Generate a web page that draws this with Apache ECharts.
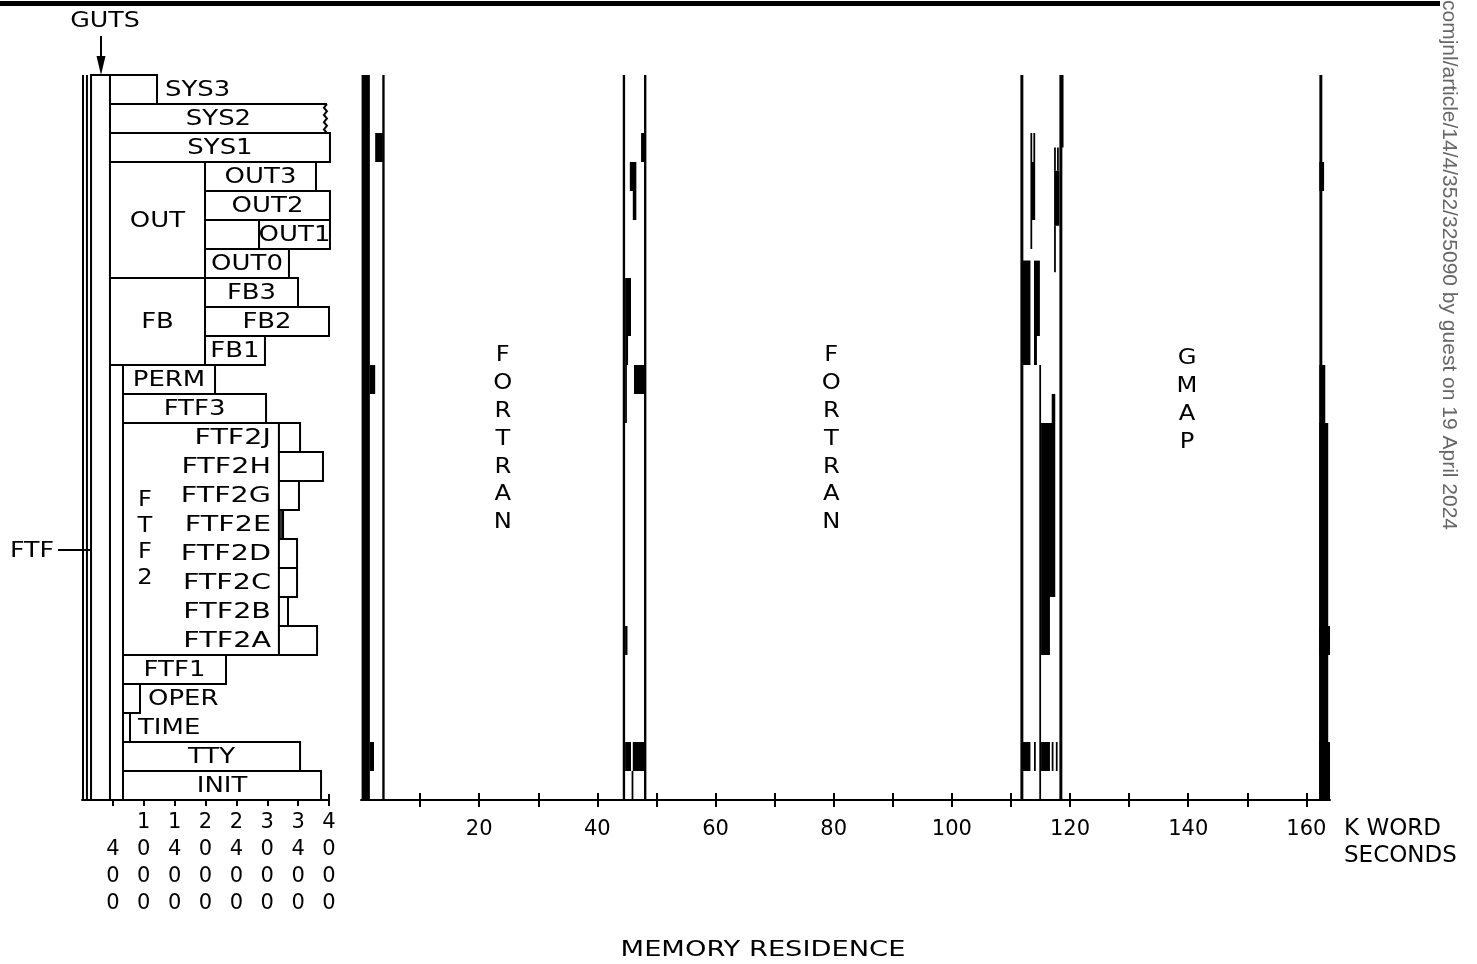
<!DOCTYPE html>
<html><head><meta charset="utf-8">
<script src="https://cdn.jsdelivr.net/npm/echarts@6/dist/echarts.min.js"></script>
<style>html,body{margin:0;padding:0;background:#fff}#c{width:1477px;height:964px}</style>
</head><body><div id="c"></div>
<script>
// ---------------- DATA ----------------
// overlay rows (top to bottom)
const rowNames = ['SYS3','SYS2','SYS1','OUT3','OUT2','OUT1','OUT0','FB3','FB2','FB1','PERM','FTF3',
  'FTF2J','FTF2H','FTF2G','FTF2E','FTF2D','FTF2C','FTF2B','FTF2A','FTF1','OPER','TIME','TTY','INIT'];
// memory map boxes: [name, start word, end word, first row, last row (exclusive)]
const overlayBoxes = [
  ['', 0, 41, 0, 25],
  ['GUTS', 75, 232, 0, 25],
  ['SYS3', 232, 622, 0, 1],
  ['SYS2', 232, 2031, 1, 2],
  ['SYS1', 232, 2056, 2, 3],
  ['OUT', 232, 1020, 3, 7],
  ['OUT3', 1020, 1940, 3, 4],
  ['OUT2', 1020, 2056, 4, 5],
  ['', 1020, 1468, 5, 6],
  ['OUT1', 1468, 2056, 5, 6],
  ['OUT0', 1020, 1716, 6, 7],
  ['FB', 232, 1020, 7, 10],
  ['FB3', 1020, 1791, 7, 8],
  ['FB2', 1020, 2048, 8, 9],
  ['FB1', 1020, 1517, 9, 10],
  ['FTF', 232, 340, 10, 25],
  ['PERM', 340, 1103, 10, 11],
  ['FTF3', 340, 1526, 11, 12],
  ['FTF2', 340, 1633, 12, 20],
  ['FTF2J', 1633, 1808, 12, 13],
  ['FTF2H', 1633, 1998, 13, 14],
  ['FTF2G', 1633, 1799, 14, 15],
  ['FTF2E', 1633, 1667, 15, 16],
  ['FTF2D', 1633, 1783, 16, 17],
  ['FTF2C', 1633, 1783, 17, 18],
  ['FTF2B', 1633, 1708, 18, 19],
  ['FTF2A', 1633, 1949, 19, 20],
  ['FTF1', 340, 1194, 20, 21],
  ['OPER', 340, 481, 21, 22],
  ['TIME', 340, 398, 22, 23],
  ['TTY', 340, 1808, 23, 24],
  ['INIT', 340, 1982, 24, 25]
];
// memory address tick labels (octal)
const memTickLabels = ['400','1000','1400','2000','2400','3000','3400','4000'];
// time axis (K word seconds)
const timeTicks = [10,20,30,40,50,60,70,80,90,100,110,120,130,140,150,160];
const timeTickLabels = [20,40,60,80,100,120,140,160];
// memory residence marks: [start t, end t, first row, last row (exclusive)]
const residence = [
  [0.1, 1.5, 0, 25], [3.6, 4.0, 0, 25], [1.5, 2.4, 10, 11], [1.5, 2.2, 23, 24], [2.4, 3.7, 2, 3],
  [44.3, 44.7, 0, 25], [47.9, 48.3, 0, 25], [47.4, 47.9, 2, 3], [45.5, 46.6, 3, 4], [46.0, 46.6, 4, 5],
  [44.7, 45.7, 7, 9], [44.7, 45.2, 9, 10], [46.2, 47.9, 10, 11], [44.7, 45.0, 10, 12],
  [44.7, 45.1, 19, 20], [44.7, 45.7, 23, 24], [46.0, 47.9, 23, 24], [45.8, 46.1, 24, 25],
  [111.6, 112.1, 0, 25], [118.2, 118.7, 0, 25], [118.6, 118.9, 0, 2.5], [114.8, 115.1, 10, 25],
  [113.3, 113.6, 2, 3], [113.8, 114.1, 2, 3], [113.3, 114.1, 3, 5], [113.3, 113.6, 5, 6],
  [111.8, 113.3, 6.4, 10], [113.9, 114.9, 6.4, 9], [113.9, 114.4, 9, 10],
  [117.3, 117.6, 2.5, 3.3], [117.8, 118.1, 2.5, 3.3], [117.3, 118.2, 3.3, 5.2], [117.3, 117.6, 5.2, 6.8],
  [116.9, 117.5, 11, 12], [115.1, 117.5, 12, 18], [115.1, 116.6, 18, 20],
  [111.8, 113.3, 23, 24], [113.9, 114.2, 23, 24], [115.1, 116.6, 23, 24], [116.9, 117.2, 23, 24], [117.6, 117.9, 23, 24],
  [162.2, 162.7, 0, 25], [162.2, 163.0, 3, 4], [162.2, 163.2, 10, 25], [162.2, 163.7, 12, 25],
  [162.2, 164.0, 19, 20], [162.2, 164.0, 23, 25]
];
// program runs
const runNames = ['FORTRAN', 'FORTRAN', 'GMAP'];
const runLabelTime = [24.0, 79.6, 139.8];
const runLabelRow = [9.2, 9.2, 9.3];

// ---------------- RENDER ----------------
const FONT = 'DejaVu Sans';
const memTickValues = memTickLabels.map(s => parseInt(s, 8));
const memMax = memTickValues[memTickValues.length - 1];
const labelMode = {SYS3:'outRight', OPER:'outRight', TIME:'outRight', FTF2:'vertical', GUTS:'none', FTF:'none',
  FTF2J:'outLeft', FTF2H:'outLeft', FTF2G:'outLeft', FTF2E:'outLeft', FTF2D:'outLeft', FTF2C:'outLeft', FTF2B:'outLeft', FTF2A:'outLeft'};

function txt(text, x, y, align, extra, sx) {
  return {type:'text', x:x, y:y, scaleX:sx || 1.18, style:Object.assign({text:text, fill:'#000', fontSize:22, fontFamily:FONT,
    align:align||'center', textAlign:align||'center', verticalAlign:'middle', textVerticalAlign:'middle'}, extra||{})};
}

function renderBox(params, api) {
  const b = overlayBoxes[params.dataIndex];
  const name = b[0];
  const p0 = api.coord([b[1], b[3]]), p1 = api.coord([b[2], b[4]]);
  const x0 = p0[0], y0 = p0[1], x1 = p1[0], y1 = p1[1];
  const children = [];
  if (name === '' && b[1] === 0) {
    children.push({type:'line', shape:{x1:x0+1, y1:y0, x2:x0+1, y2:y1}, style:{stroke:'#000', lineWidth:2}});
    children.push({type:'line', shape:{x1:x1, y1:y0, x2:x1, y2:y1}, style:{stroke:'#000', lineWidth:2}});
  } else if (name === 'SYS2') {
    children.push({type:'rect', shape:{x:x0, y:y0, width:x1-x0, height:y1-y0}, style:{fill:'#fff', stroke:null}});
    const pts = [[x1, y0], [x0, y0], [x0, y1], [x1, y1]];
    const n = 8;
    for (let k = 1; k <= n; k++) pts.push([x1 + (k % 2 ? -3 : 0), y1 - (y1 - y0) * k / n]);
    children.push({type:'polyline', shape:{points:pts}, style:{stroke:'#000', lineWidth:2, fill:null}});
  } else {
    children.push({type:'rect', shape:{x:x0, y:y0, width:x1-x0, height:y1-y0},
      style:{stroke:'#000', lineWidth:2, fill: name === 'FTF2E' ? '#333' : '#fff'}});
  }
  const mode = labelMode[name] || 'center';
  const cy = (y0 + y1) / 2;
  if (name && mode === 'center') children.push(txt(name, (x0 + x1) / 2, cy + 1));
  else if (mode === 'outRight') children.push(txt(name, x1 + 8, cy + 1, 'left'));
  else if (mode === 'outLeft') children.push(txt(name, x0 - 8, cy + 1, 'right', null, 1.3));
  else if (mode === 'vertical') children.push(txt(name.split('').join('\n'), x0 + 22, cy, 'center', {lineHeight:26}, 1.1));
  return {type:'group', children:children};
}

function renderMark(params, api) {
  const m = residence[params.dataIndex];
  const p0 = api.coord([m[0], m[2]]), p1 = api.coord([m[1], m[3]]);
  return {type:'rect', shape:{x:p0[0], y:p0[1], width:Math.max(1.5, p1[0]-p0[0]), height:p1[1]-p0[1]}, style:{fill:'#000'}};
}

function renderRun(params, api) {
  const i = params.dataIndex;
  const p = api.coord([runLabelTime[i], runLabelRow[i]]);
  return txt(runNames[i].split('').join('\n'), p[0], p[1], 'center', {verticalAlign:'top', textVerticalAlign:'top', lineHeight:27.8, fontSize:22}, 1.1);
}

const axisLineStyle = {show:true, onZero:false, lineStyle:{color:'#000', width:2}};
const chart = echarts.init(document.getElementById('c'), null, {renderer:'canvas'});
chart.setOption({
  backgroundColor:'#fff',
  animation:false,
  grid:[
    {left:82, top:75, width:247, height:725},
    {left:361, top:75, width:969, height:725}
  ],
  xAxis:[
    {gridIndex:0, type:'value', min:0, max:memMax, position:'bottom', axisLine:axisLineStyle,
     axisTick:{show:true, customValues:memTickValues, length:6, lineStyle:{color:'#000', width:2}},
     axisLabel:{show:true, customValues:memTickValues, margin:9, fontSize:21, lineHeight:27, fontFamily:FONT, color:'#000',
       formatter:function(v){ const s = v.toString(8); return (s.length < 4 ? '\u00a0\n' : '') + s.split('').join('\n'); }},
     splitLine:{show:false}},
    {gridIndex:0, type:'value', min:0, max:memMax, position:'bottom', axisLine:{show:false, onZero:false},
     axisTick:{show:true, inside:true, customValues:memTickValues, length:6, lineStyle:{color:'#000', width:2}},
     axisLabel:{show:false}, splitLine:{show:false}},
    {gridIndex:1, type:'value', min:0, max:164, position:'bottom', axisLine:axisLineStyle,
     axisTick:{show:true, customValues:timeTicks, length:7, lineStyle:{color:'#000', width:2}},
     axisLabel:{show:true, customValues:timeTickLabels, margin:19, fontSize:21, fontFamily:FONT, color:'#000'},
     splitLine:{show:false},
     name:'K WORD\nSECONDS', nameLocation:'end', nameGap:14,
     nameTextStyle:{align:'left', verticalAlign:'top', lineHeight:27, fontSize:23, fontFamily:FONT, color:'#000', padding:[16,0,0,0]}},
    {gridIndex:1, type:'value', min:0, max:164, position:'bottom', axisLine:{show:false, onZero:false},
     axisTick:{show:true, inside:true, customValues:timeTicks, length:7, lineStyle:{color:'#000', width:2}},
     axisLabel:{show:false}, splitLine:{show:false}}
  ],
  yAxis:[
    {gridIndex:0, type:'value', min:0, max:25, inverse:true, show:false},
    {gridIndex:1, type:'value', min:0, max:25, inverse:true, show:false}
  ],
  graphic:[
    {type:'rect', shape:{x:0, y:1, width:1440, height:5}, style:{fill:'#000'}},
    {type:'text', x:1449, y:0, rotation:-Math.PI/2, style:{text:'comjnl/article/14/4/352/325090 by guest on 19 April 2024',
      fill:'#666', fontSize:21, fontFamily:'Liberation Sans', align:'left', textAlign:'left', verticalAlign:'middle', textVerticalAlign:'middle'}},
    {type:'text', x:105, y:21, scaleX:1.15, style:{text:'GUTS', fill:'#000', fontSize:22, fontFamily:FONT, align:'center', textAlign:'center', verticalAlign:'middle', textVerticalAlign:'middle'}},
    {type:'line', shape:{x1:101, y1:36, x2:101, y2:60}, style:{stroke:'#000', lineWidth:2}},
    {type:'polygon', shape:{points:[[96.5,56],[105.5,56],[101,75]]}, style:{fill:'#000'}},
    {type:'text', x:10, y:551, scaleX:1.15, style:{text:'FTF', fill:'#000', fontSize:22, fontFamily:FONT, align:'left', textAlign:'left', verticalAlign:'middle', textVerticalAlign:'middle'}},
    {type:'line', shape:{x1:58, y1:550, x2:95, y2:550}, style:{stroke:'#000', lineWidth:2}},
    {type:'polygon', shape:{points:[[91,545],[91,555],[109,550]]}, style:{fill:'#000'}},
    {type:'text', x:763, y:950, scaleX:1.24, style:{text:'MEMORY RESIDENCE', fill:'#000', fontSize:22, fontFamily:FONT, align:'center', textAlign:'center', verticalAlign:'middle', textVerticalAlign:'middle'}}
  ],
  series:[
    {type:'custom', name:'memory map', xAxisIndex:0, yAxisIndex:0, renderItem:renderBox,
     data:overlayBoxes.map(b => [b[1], b[2], b[3], b[4]]), encode:{x:[0,1], y:[2,3]}, silent:true},
    {type:'custom', name:'residence', xAxisIndex:2, yAxisIndex:1, renderItem:renderMark,
     data:residence, encode:{x:[0,1], y:[2,3]}, silent:true},
    {type:'custom', name:'runs', xAxisIndex:2, yAxisIndex:1, renderItem:renderRun,
     data:runNames.map((n,i) => [runLabelTime[i], runLabelRow[i]]), encode:{x:0, y:1}, silent:true}
  ]
});
</script></body></html>
